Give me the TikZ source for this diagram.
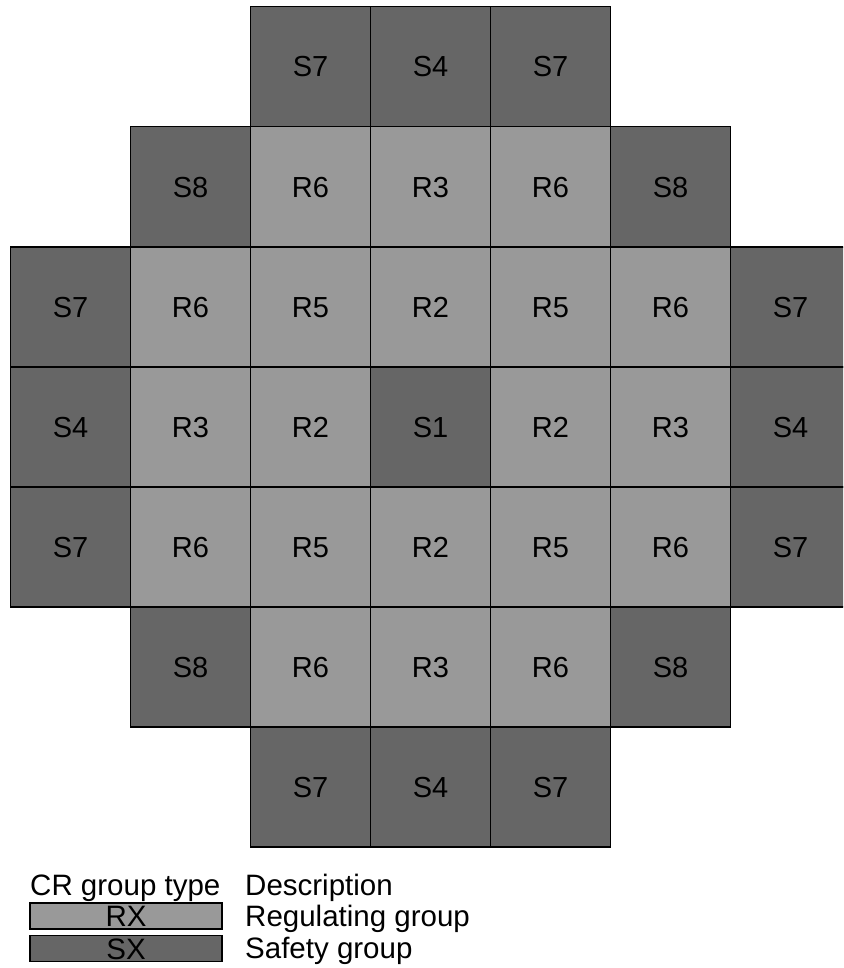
\documentclass[tikz,border=0pt]{standalone}
\usepackage{fontspec}
\setmainfont{Liberation Sans}
\definecolor{regcol}{HTML}{999999}
\definecolor{safcol}{HTML}{666666}
\tikzset{
  cell/.style={draw=black, line width=1.4pt, minimum width=120pt, minimum height=120pt, inner sep=0pt, outer sep=0pt, text height=21pt, text depth=0pt, font=\fontsize{29}{33}\selectfont, text=black},
  rx/.style={cell, fill=regcol},
  sx/.style={cell, fill=safcol},
  legbox/.style={draw=black, line width=1.2pt, minimum width=192pt, minimum height=26pt, inner sep=0pt, outer sep=0pt, text height=21pt, text depth=0pt, font=\fontsize{29.5}{33}\selectfont},
  legtext/.style={anchor=base west, inner sep=0pt, font=\fontsize{29.5}{33}\selectfont}
}
\begin{document}
\begin{tikzpicture}[x=1pt,y=-1pt]
\useasboundingbox (0,0) rectangle (843,968);
\clip (0,0) rectangle (843,968);
% row 0
\foreach \c/\t/\s in {2/S7/sx,3/S4/sx,4/S7/sx}
  \node[\s] (c0\c) at ({70.5+120*\c},{66.5}) {\t};
% row 1
\foreach \c/\t/\s in {1/S8/sx,2/R6/rx,3/R3/rx,4/R6/rx,5/S8/sx}
  \node[\s] (c1\c) at ({70.5+120*\c},{186.8}) {\t};
% row 2
\foreach \c/\t/\s in {0/S7/sx,1/R6/rx,2/R5/rx,3/R2/rx,4/R5/rx,5/R6/rx,6/S7/sx}
  \node[\s] (c2\c) at ({70.5+120*\c},{307}) {\t};
% row 3
\foreach \c/\t/\s in {0/S4/sx,1/R3/rx,2/R2/rx,3/S1/sx,4/R2/rx,5/R3/rx,6/S4/sx}
  \node[\s] (c3\c) at ({70.5+120*\c},{427}) {\t};
% row 4
\foreach \c/\t/\s in {0/S7/sx,1/R6/rx,2/R5/rx,3/R2/rx,4/R5/rx,5/R6/rx,6/S7/sx}
  \node[\s] (c4\c) at ({70.5+120*\c},{547}) {\t};
% row 5
\foreach \c/\t/\s in {1/S8/sx,2/R6/rx,3/R3/rx,4/R6/rx,5/S8/sx}
  \node[\s] (c5\c) at ({70.5+120*\c},{667}) {\t};
% row 6
\foreach \c/\t/\s in {2/S7/sx,3/S4/sx,4/S7/sx}
  \node[\s] (c6\c) at ({70.5+120*\c},{787}) {\t};
% legend
\node[legtext] (hdr1) at (30,895) {CR group type};
\node[legtext] (hdr2) at (245,895) {Description};
\node[legbox, fill=regcol] (lrx) at (126,916) {RX};
\node[legbox, fill=safcol] (lsx) at (126,948.5) {SX};
\node[legtext] (drx) at (245,926) {Regulating group};
\node[legtext] (dsx) at (245,958) {Safety group};
\end{tikzpicture}
\end{document}
